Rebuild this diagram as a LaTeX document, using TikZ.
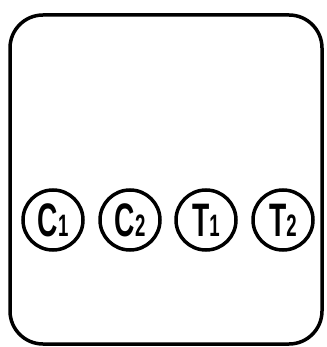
\documentclass[tikz,border=0pt]{standalone}
\usepackage{fontspec}
\usepackage{graphicx}
\setmainfont{Liberation Sans}
\usetikzlibrary{positioning}

\newcommand{\cellmark}[2]{\raisebox{-2pt}{\scalebox{0.6}[1]{\bfseries\fontsize{47}{47}\selectfont #1\fontsize{31}{31}\selectfont #2}}}

\begin{document}
\begin{tikzpicture}[x=1pt,y=-1pt]
    \tikzset{
    slot/.style={
        draw, circle, line width=3.5pt,
        minimum size=60pt, inner sep=0pt
    }
    }
        \useasboundingbox (0,0) rectangle (326,347);
        \node (panel)[draw, line width=3.5pt, rounded corners=33pt,
            minimum width=312pt, minimum height=329pt, inner sep=0pt] at (166,179.5) {};

        \node (c1)[slot] at (53,220) {\cellmark{C}{1}};
        \node (c2)[slot] at (130,220) {\cellmark{C}{2}};
        \node (t1)[slot] at (206,220) {\cellmark{T}{1}};
        \node (t2)[slot] at (283,220) {\cellmark{T}{2}};

    \end{tikzpicture}
\end{document}
